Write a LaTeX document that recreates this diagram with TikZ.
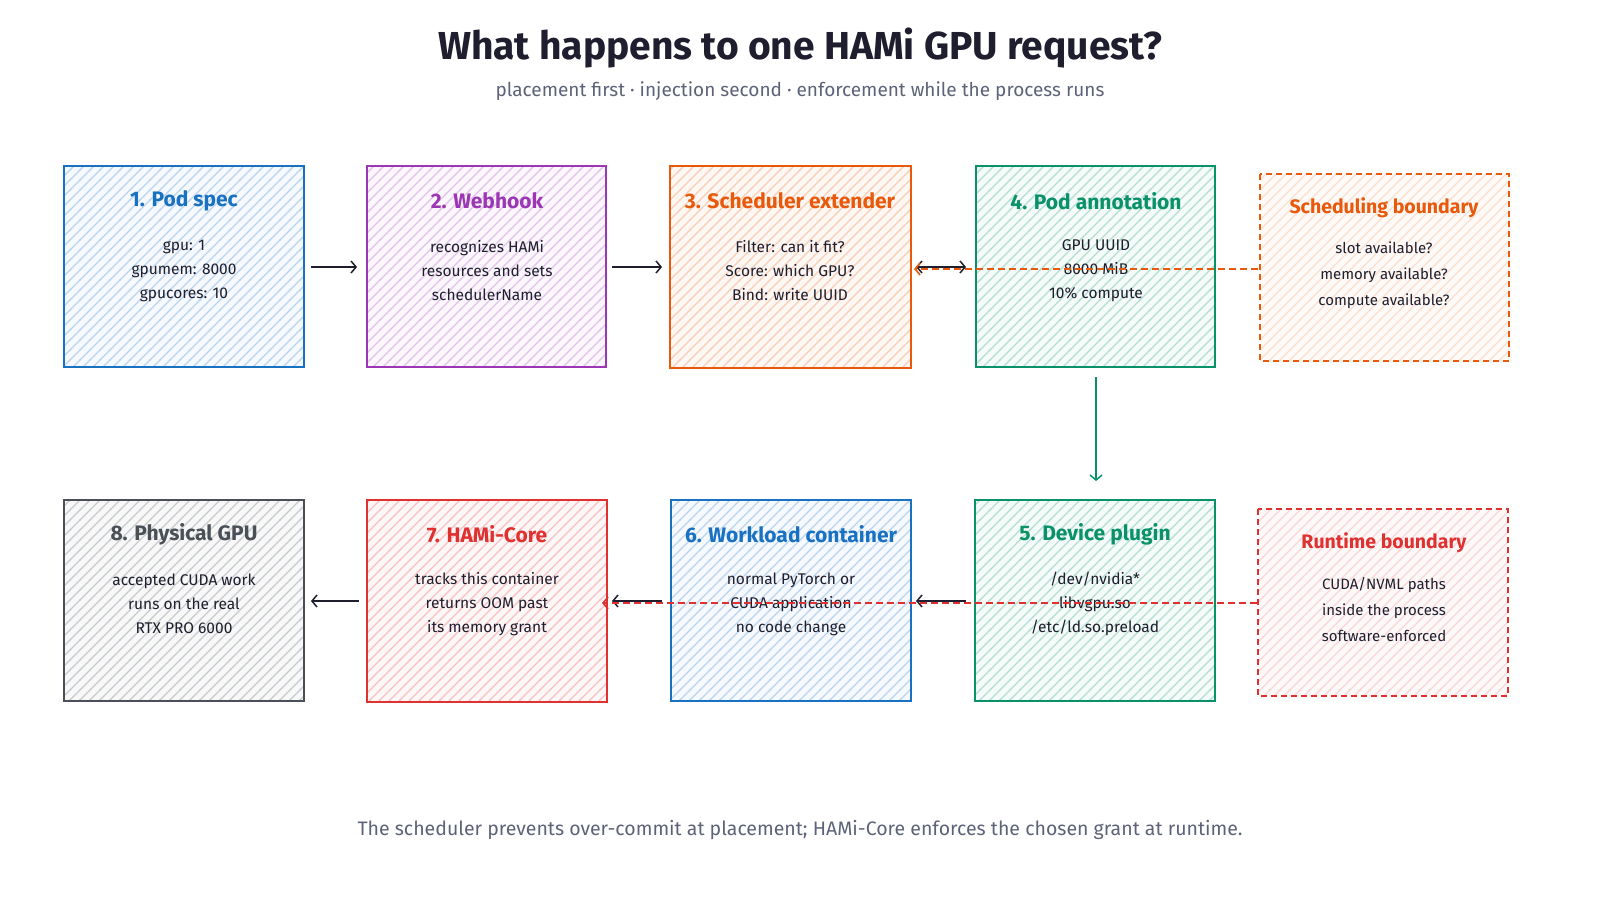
\documentclass[tikz,border=0pt]{standalone}
\usepackage{fontspec}
\setmainfont{Fira Sans}
\usetikzlibrary{patterns.meta,arrows.meta}
\definecolor{cblue}{HTML}{1971C2}
\definecolor{cpurple}{HTML}{9C36B5}
\definecolor{corange}{HTML}{E8590C}
\definecolor{cgreen}{HTML}{099268}
\definecolor{cgray}{HTML}{495057}
\definecolor{cred}{HTML}{E03131}
\definecolor{cdark}{HTML}{1E1E2E}
\definecolor{csub}{HTML}{5C6378}
\tikzdeclarepattern{name=wlines,type=uncolored,bounding box={(-1pt,-1pt) and (11pt,11pt)},tile size={(10pt,10pt)},tile transformation={rotate=0},
  code={\draw[line width=1.2pt] (-1pt,-1pt)--(11pt,11pt);}}
\begin{document}
\begin{tikzpicture}[x=1pt,y=-1pt,
  box/.style={fill=#1!4,postaction={pattern=wlines,pattern color=#1!30},postaction={draw=#1,line width=1.8pt}},
  bnd/.style={fill=#1!3,postaction={pattern=wlines,pattern color=#1!20},postaction={draw=#1,line width=1.8pt,dash pattern=on 6pt off 4pt}},
  ttl/.style={font=\fontsize{21}{24}\selectfont\bfseries,text=#1},
  body/.style={font=\fontsize{15.5}{24}\selectfont,text=cdark,align=center},
  arr/.style={-{Straight Barb[length=5pt,width=12pt]},line width=1.5pt,draw=cdark},
  darr/.style={-{Straight Barb[length=5pt,width=12pt]},line width=1.6pt,dash pattern=on 7pt off 4pt}]
\useasboundingbox (0,0) rectangle (1600,920);
\node[font=\fontsize{39}{42}\selectfont\bfseries,text=cdark] (title) at (800,48) {What happens to one HAMi GPU request?};
\node[font=\fontsize{19}{22}\selectfont,text=csub] (sub) at (800,91) {placement first · injection second · enforcement while the process runs};
\node[font=\fontsize{19.5}{22}\selectfont,text=csub] (foot) at (800,830) {The scheduler prevents over-commit at placement; HAMi-Core enforces the chosen grant at runtime.};
% row 1
\path[box=cblue] (64,166) rectangle (304,367);
\node[ttl=cblue] (t1) at (184,201) {1. Pod spec};
\node[body] (x1) at (184,271) {gpu: 1\\gpumem: 8000\\gpucores: 10};
\path[box=cpurple] (367,166) rectangle (606,367);
\node[ttl=cpurple] (t2) at (487,201) {2. Webhook};
\node[body] (x2) at (487,271) {recognizes HAMi\\resources and sets\\schedulerName};
\path[box=corange] (670,166) rectangle (911,368);
\node[ttl=corange] (t3) at (790,201) {3. Scheduler extender};
\node[body] (x3) at (790,271) {Filter: can it fit?\\Score: which GPU?\\Bind: write UUID};
\path[box=cgreen] (976,166) rectangle (1215,367);
\node[ttl=cgreen] (t4) at (1096,201) {4. Pod annotation};
\node[body] (x4) at (1096,271) {GPU UUID\\8000 MiB\\10\% compute};
\path[bnd=corange] (1260,174) rectangle (1509,361);
\node[ttl=corange,font=\fontsize{19.5}{22}\selectfont\bfseries] (t9) at (1384,208) {Scheduling boundary};
\node[body,font=\fontsize{15}{26}\selectfont] (x9) at (1384,275) {slot available?\\memory available?\\compute available?};
% row 2
\path[box=cgray] (64,500) rectangle (304,701);
\node[ttl=cgray] (t8) at (184,534) {8. Physical GPU};
\node[body] (x8) at (184,604) {accepted CUDA work\\runs on the real\\RTX PRO 6000};
\path[box=cred] (367,500) rectangle (607,702);
\node[ttl=cred] (t7) at (487,534) {7. HAMi-Core};
\node[body] (x7) at (487,604) {tracks this container\\returns OOM past\\its memory grant};
\path[box=cblue] (671,500) rectangle (911,701);
\node[ttl=cblue] (t6) at (791,534) {6. Workload container};
\node[body] (x6) at (791,604) {normal PyTorch or\\CUDA application\\no code change};
\path[box=cgreen] (975,500) rectangle (1215,701);
\node[ttl=cgreen] (t5) at (1095,534) {5. Device plugin};
\node[body] (x5) at (1095,604) {/dev/nvidia*\\libvgpu.so\\/etc/ld.so.preload};
\path[bnd=cred] (1258,509) rectangle (1508,696);
\node[ttl=cred,font=\fontsize{19.5}{22}\selectfont\bfseries] (t10) at (1384,543) {Runtime boundary};
\node[body,font=\fontsize{15}{26}\selectfont] (x10) at (1384,610) {CUDA/NVML paths\\inside the process\\software-enforced};
% connectors
\coordinate (a1) at (311,267); \coordinate (a2) at (357,267);
\coordinate (a3) at (612,267); \coordinate (a4) at (662,267);
\coordinate (a5) at (916,267); \coordinate (a6) at (966,267);
\coordinate (a7) at (1096,377); \coordinate (a8) at (1096,481);
\coordinate (a9) at (966,601); \coordinate (a10) at (916,601);
\coordinate (a11) at (662,601); \coordinate (a12) at (612,601);
\coordinate (a13) at (359,601); \coordinate (a14) at (311,601);
\coordinate (s1) at (1258,269); \coordinate (s2) at (914,269);
\coordinate (r1) at (1257,603); \coordinate (r2) at (602,603);
\draw[arr] (a1) -- (a2);
\draw[arr] (a3) -- (a4);
\draw[arr,{Straight Barb[length=5pt,width=12pt]}-{Straight Barb[length=5pt,width=12pt]}] (a5) -- (a6);
\draw[arr,draw=cgreen] (a7) -- (a8);
\draw[arr] (a9) -- (a10);
\draw[arr] (a11) -- (a12);
\draw[arr] (a13) -- (a14);
\draw[darr,draw=corange] (s1) -- (s2);
\draw[darr,draw=cred] (r1) -- (r2);
\end{tikzpicture}
\end{document}
